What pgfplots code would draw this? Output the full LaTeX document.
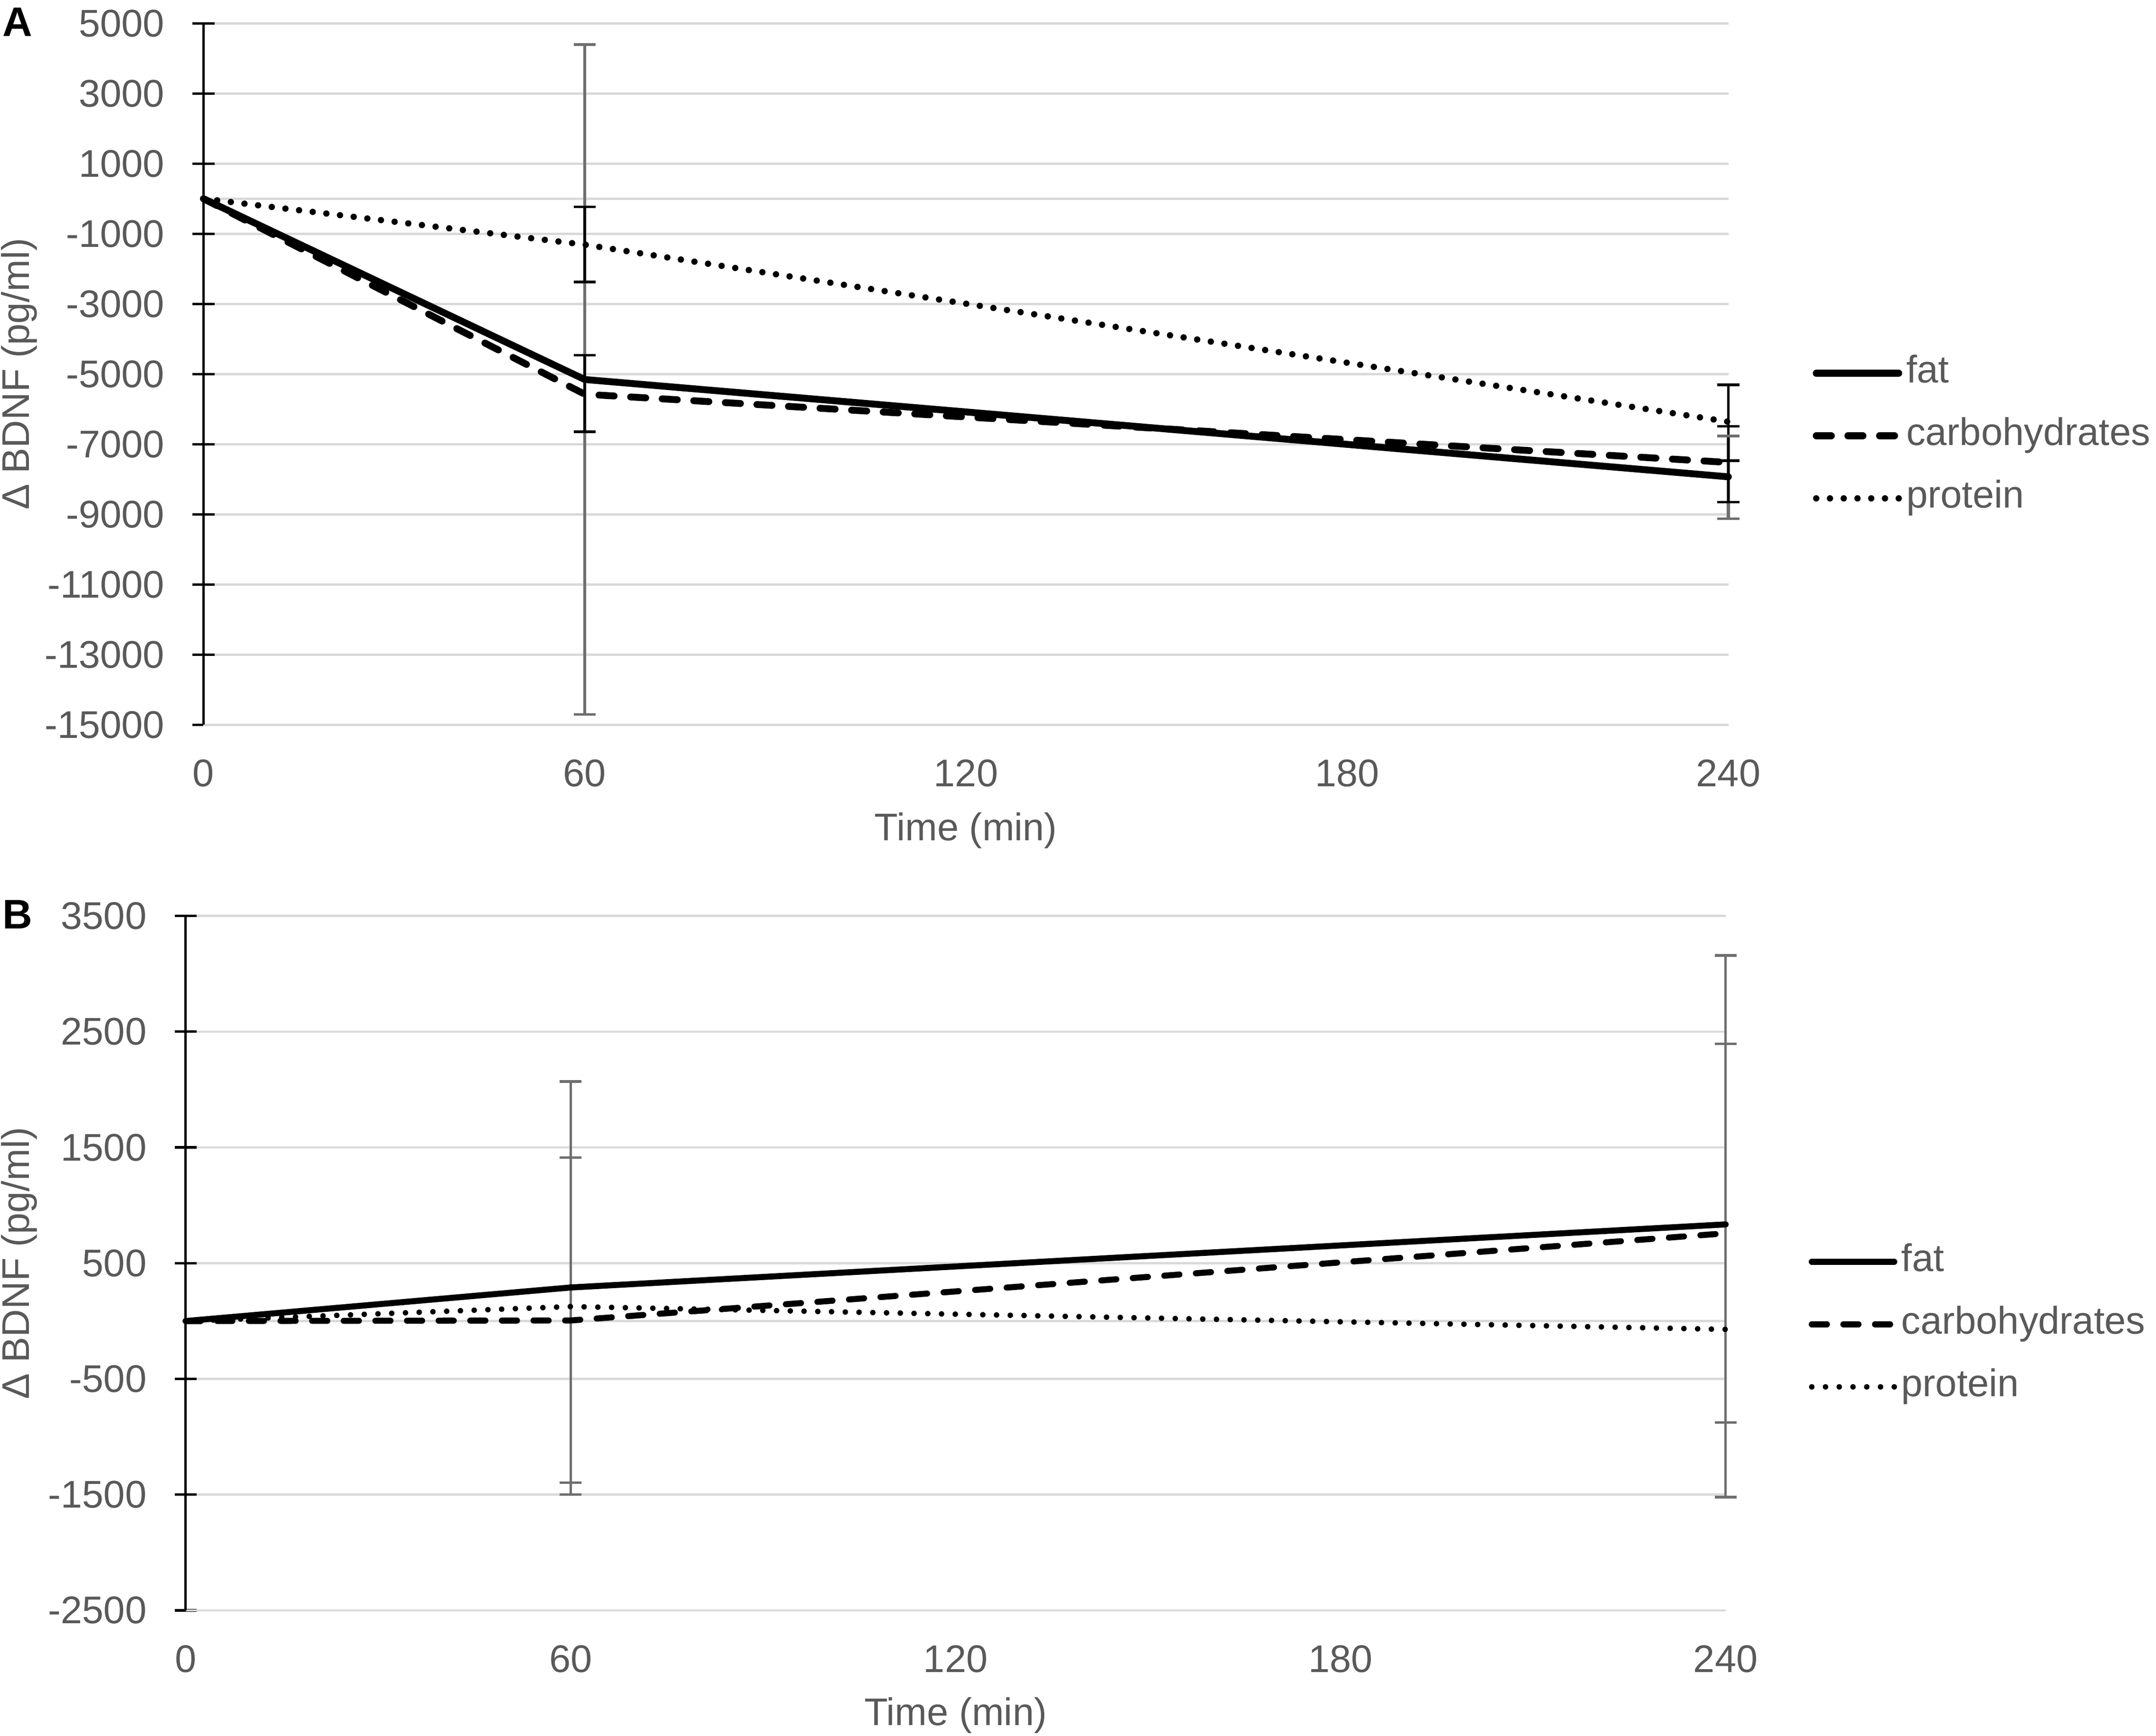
\documentclass[border=0pt]{standalone}
\usepackage{fontspec}
\setmainfont{Liberation Sans}
\usepackage{pgfplots}
\pgfplotsset{compat=1.18}
\definecolor{txt}{HTML}{595959}
\definecolor{grd}{HTML}{D9D9D9}
\definecolor{ebg}{HTML}{6E6E6E}
\newcommand{\fs}{\fontsize{14}{16.8}\selectfont}
\pgfplotsset{
  base/.style={
    scale only axis,
    xmin=0, xmax=240, xtick={0,60,120,180,240},
    scaled y ticks=false,
    axis x line*=bottom, axis y line*=left,
    x axis line style={draw=grd, line width=0.8pt},
    y axis line style={draw=black, line width=0.9pt},
    xtick style={draw=none},
    ytick style={draw=black, line width=0.9pt},
    major tick length=8pt, tick align=center,
    ymajorgrids, grid style={draw=grd, line width=0.8pt},
    extra y ticks={0}, extra y tick labels={},
    extra y tick style={grid=major, major tick length=0pt, ytick style={draw=none}},
    ticklabel style={font=\fs, text=txt},
    yticklabel style={anchor=east, inner sep=0pt, xshift=-10pt},
    xticklabel style={anchor=north, inner sep=0pt, yshift=-8.5pt},
    label style={font=\fs, text=txt},
    /pgf/number format/.cd, set thousands separator={}, assume math mode=true,
    /pgfplots/.cd,
    legend cell align=left,
    legend image code/.code={\draw[#1] (0pt,0pt) -- (30pt,0pt);},
    unbounded coords=jump,
    clip=false,
  },
  ebar/.style={forget plot, draw=#1, solid, line width=0.9pt, mark=-, mark size=4pt,
    mark options={draw=#1, solid, line width=0.9pt}},
  fatl/.style={black, line width=2.5pt, line cap=round},
  carbl/.style={black, line width=2.5pt, line cap=round, dash pattern=on 5.5pt off 6pt},
  protl/.style={black, line width=2.3pt, line cap=round, dash pattern=on 0pt off 5pt},
}
\begin{document}
\begin{tikzpicture}
\useasboundingbox (0,0) rectangle (784pt,-631pt);
\node[font=\bfseries\fontsize{15}{18}\selectfont, text=black] at (6.3pt,-8pt) {A};
\node[font=\bfseries\fontsize{15}{18}\selectfont, text=black] at (6.3pt,-332.5pt) {B};

% Panel A
\begin{axis}[base,
  at={(74pt,-263.5pt)}, anchor=south west,
  width=554.5pt, height=255pt,
  ymin=-15000, ymax=5000, ytick={-15000,-13000,...,5000},
  xlabel={Time (min)}, ylabel={Δ BDNF (pg/ml)},
  xlabel style={at={(axis description cs:0.5,-0.151)}, anchor=center},
  ylabel style={at={(axis description cs:-0.121,0.5)}, anchor=center},
  legend style={at={(1.055,0.412)}, anchor=west, draw=none, fill=none, inner sep=0pt,
    font=\fs, text=txt, row sep=6.75pt,
    nodes={inner sep=1.5pt, text height=10pt, text depth=3pt}},
]
% error bars (mean +/- error)
\addplot[ebar=ebg, line width=1.1pt] coordinates {(60,-14705) (60,4395) (240,nan) (240,-9128) (240,-6768)};
\addplot[ebar=black] coordinates {(60,-6644) (60,-4464) (240,nan) (240,-8652) (240,-6492)};
\addplot[ebar=black] coordinates {(60,-2374) (60,-234) (240,nan) (240,-7468) (240,-5308)};
% lines
\addplot[fatl] coordinates {(0,0) (60,-5155) (240,-7930)};
\addlegendentry{fat}
\addplot[carbl] coordinates {(0,0) (60,-5575) (240,-7520)};
\addlegendentry{carbohydrates}
\addplot[protl] coordinates {(0,0) (60,-1310) (240,-6360)};
\addlegendentry{protein}
\end{axis}

% Panel B
\begin{axis}[base,
  at={(67.5pt,-585.5pt)}, anchor=south west,
  width=560pt, height=252.5pt,
  ymin=-2500, ymax=3500, ytick={-2500,-1500,...,3500},
  xlabel={Time (min)}, ylabel={Δ BDNF (pg/ml)},
  xlabel style={at={(axis description cs:0.5,-0.151)}, anchor=center},
  ylabel style={at={(axis description cs:-0.108,0.5)}, anchor=center},
  legend style={at={(1.0536,0.412)}, anchor=west, draw=none, fill=none, inner sep=0pt,
    font=\fs, text=txt, row sep=6.75pt,
    nodes={inner sep=1.5pt, text height=10pt, text depth=3pt}},
]
\addplot[ebar=ebg] coordinates {(60,-1500) (60,2070) (240,nan) (240,-1521) (240,3159)};
\addplot[ebar=ebg] coordinates {(60,-1396) (60,1412) (240,nan) (240,-875) (240,2395)};
\addplot[fatl, line width=2.2pt] coordinates {(0,0) (60,290) (240,835)};
\addlegendentry{fat}
\addplot[carbl, line width=2.2pt] coordinates {(0,0) (60,5) (240,758)};
\addlegendentry{carbohydrates}
\addplot[protl, line width=2pt] coordinates {(0,0) (60,125) (240,-72)};
\addlegendentry{protein}
\end{axis}
\end{tikzpicture}
\end{document}
